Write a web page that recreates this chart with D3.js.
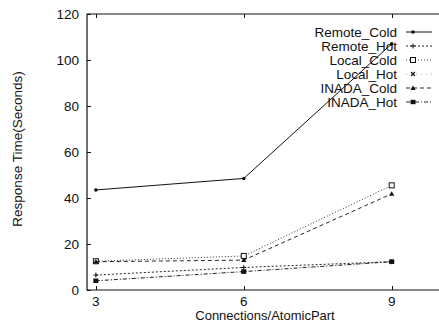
<!DOCTYPE html>
<meta charset="utf-8">
<style>
body { margin: 0; background: #fff; }
svg text { font-family: "Liberation Sans", Arial, sans-serif; fill: #111; }
.axis path, .axis line { stroke: #111; shape-rendering: crispEdges; }
</style>
<body>
<script src="https://d3js.org/d3.v7.min.js"></script>
<script>
// data
var connections = [3, 6, 9];
var yTicks = [0, 20, 40, 60, 80, 100, 120];
var seriesNames = ["Remote_Cold", "Remote_Hot", "Local_Cold", "Local_Hot", "INADA_Cold", "INADA_Hot"];
var remoteCold = [43.5, 48.5, 107];
var remoteHot = [6.5, 9.8, 12.3];
var localCold = [12.5, 14.8, 45.5];
var localHot = [4, 8, 12.3];
var inadaCold = [12.3, 13, 41.8];
var inadaHot = [4, 8, 12.3];

var seriesValues = [remoteCold, remoteHot, localCold, localHot, inadaCold, inadaHot];
var styles = [
  {dash: null, marker: "dot", op: 1},
  {dash: "2,2", marker: "plus", op: 0.9},
  {dash: "1,2", marker: "sqOpen", op: 0.85},
  {dash: "1,4", marker: "cross", op: 0.35},
  {dash: "4,3", marker: "tri", op: 0.9},
  {dash: "4,2,1,2", marker: "sqFill", op: 0.9}
];

var W = 439, H = 323;
var svg = d3.select("body").append("svg").attr("width", W).attr("height", H);

var x = d3.scaleLinear().domain([2.82, 10]).range([87, 441]);
var y = d3.scaleLinear().domain([0, 120]).range([290, 14]);

// frame: left, bottom, top
svg.append("path")
  .attr("d", "M" + x(10) + "," + y(120) + "H" + x(2.82) + "V" + y(0) + "H" + x(10))
  .attr("fill", "none").attr("stroke", "#111").attr("stroke-width", 1.2);

// y axis ticks and labels
var yAxis = svg.append("g").attr("class", "axis")
  .attr("transform", "translate(" + x(2.82) + ",0)")
  .call(d3.axisRight(y).tickValues(yTicks).tickSize(4).tickFormat(""));
yAxis.select(".domain").remove();
svg.selectAll(".ylab").data(yTicks).enter().append("text")
  .attr("x", 79).attr("y", function(d) { return y(d) + 5; })
  .attr("text-anchor", "end").style("font-size", "13.5px").text(function(d) { return d; });

// x axis ticks (bottom and top) and labels
var xAxis = svg.append("g").attr("class", "axis")
  .attr("transform", "translate(0," + y(0) + ")")
  .call(d3.axisTop(x).tickValues(connections).tickSize(4).tickFormat(""));
xAxis.select(".domain").remove();
var xTop = svg.append("g").attr("class", "axis")
  .attr("transform", "translate(0," + y(120) + ")")
  .call(d3.axisBottom(x).tickValues(connections).tickSize(4).tickFormat(""));
xTop.select(".domain").remove();
svg.selectAll(".xlab").data(connections).enter().append("text")
  .attr("x", function(d) { return x(d); }).attr("y", 306)
  .attr("text-anchor", "middle").style("font-size", "13.5px").text(function(d) { return d; });

svg.append("text").attr("x", 265).attr("y", 320).attr("text-anchor", "middle")
  .style("font-size", "13px").text("Connections/AtomicPart");
svg.append("text").attr("transform", "translate(22,149) rotate(-90)")
  .attr("text-anchor", "middle").style("font-size", "13.5px").text("Response Time(Seconds)");

function drawMarker(g, type, cx, cy) {
  if (type === "dot") {
    g.append("circle").attr("cx", cx).attr("cy", cy).attr("r", 1.8).attr("fill", "#111");
  } else if (type === "plus") {
    g.append("path").attr("d", "M" + (cx - 2.5) + "," + cy + "h5M" + cx + "," + (cy - 2.5) + "v5")
      .attr("stroke", "#111").attr("stroke-width", 1);
  } else if (type === "sqOpen") {
    g.append("rect").attr("x", cx - 2.5).attr("y", cy - 2.5).attr("width", 5).attr("height", 5)
      .attr("fill", "#fff").attr("stroke", "#111").attr("stroke-width", 1);
  } else if (type === "cross") {
    g.append("path").attr("d", "M" + (cx - 2) + "," + (cy - 2) + "l4,4M" + (cx + 2) + "," + (cy - 2) + "l-4,4")
      .attr("stroke", "#111").attr("stroke-width", 1.1);
  } else if (type === "tri") {
    g.append("path").attr("d", "M" + cx + "," + (cy - 2.6) + "l2.6,4.5h-5.2z").attr("fill", "#111");
  } else if (type === "sqFill") {
    g.append("rect").attr("x", cx - 2.5).attr("y", cy - 2.2).attr("width", 5).attr("height", 4.4).attr("fill", "#111");
  }
}

var line = d3.line().x(function(d, i) { return x(connections[i]); }).y(function(d) { return y(d); });

seriesValues.forEach(function(vals, k) {
  var st = styles[k];
  var g = svg.append("g");
  g.append("path").datum(vals).attr("d", line)
    .attr("fill", "none").attr("stroke", "#111").attr("stroke-width", 1)
    .attr("stroke-opacity", st.op)
    .attr("stroke-dasharray", st.dash);
  vals.forEach(function(v, i) { drawMarker(g, st.marker, x(connections[i]), y(v)); });

  // legend entry
  var ly = 32 + k * 14;
  svg.append("text").attr("x", 397).attr("y", ly + 5).attr("text-anchor", "end")
    .style("font-size", "13.5px").text(seriesNames[k]);
  var lg = svg.append("g");
  lg.append("line").attr("x1", 406).attr("x2", 432).attr("y1", ly).attr("y2", ly)
    .attr("stroke", "#111").attr("stroke-width", 1).attr("stroke-opacity", st.op)
    .attr("stroke-dasharray", st.dash);
  drawMarker(lg, st.marker, 413, ly);
});
</script>
</body>
